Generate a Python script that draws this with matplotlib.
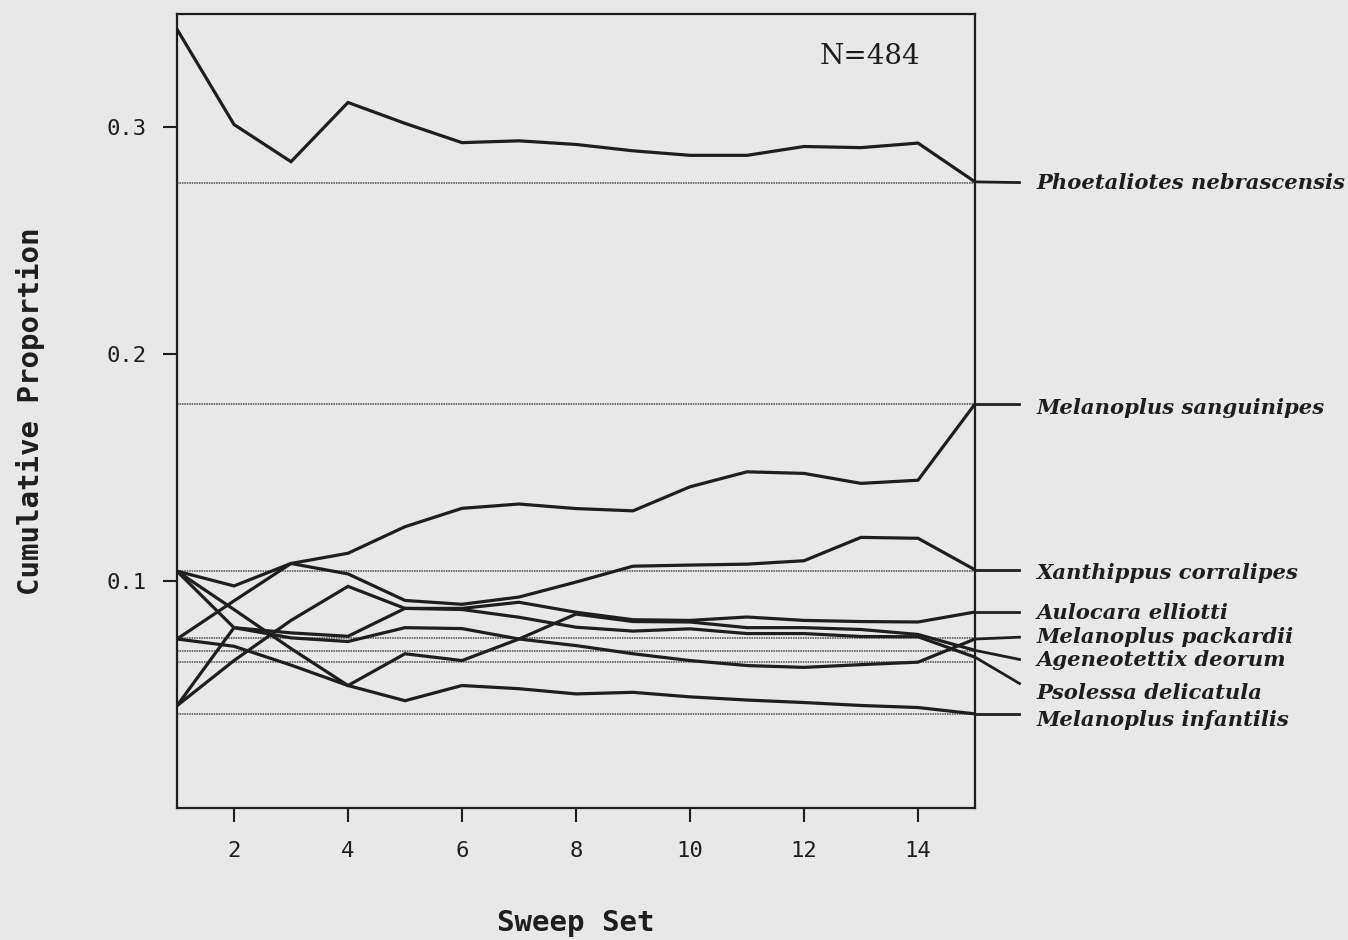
import matplotlib
matplotlib.use("Agg")
import matplotlib.pyplot as plt

# sweep sets and cumulative proportions
sweep = list(range(1, 16))

phoetaliotes = [0.3433, 0.3013, 0.2849, 0.3110, 0.3018, 0.2933, 0.2941, 0.2925, 0.2897, 0.2877,
                0.2877, 0.2916, 0.2911, 0.2931, 0.2760]
sanguinipes = [0.0745, 0.0913, 0.1078, 0.1123, 0.1240, 0.1321, 0.1340, 0.1320, 0.1310, 0.1416,
               0.1482, 0.1475, 0.1431, 0.1445, 0.1781]
xanthippus = [0.1044, 0.0979, 0.1078, 0.1032, 0.0915, 0.0898, 0.0930, 0.0996, 0.1066, 0.1071,
              0.1075, 0.1090, 0.1193, 0.1189, 0.1050]
aulocara = [0.0451, 0.0650, 0.0827, 0.0977, 0.0880, 0.0880, 0.0907, 0.0863, 0.0830, 0.0827,
            0.0842, 0.0827, 0.0822, 0.0820, 0.0864]
packardii = [0.1044, 0.0875, 0.0703, 0.0540, 0.0680, 0.0650, 0.0745, 0.0716, 0.0680, 0.0650,
             0.0628, 0.0620, 0.0632, 0.0643, 0.0745]
ageneotettix = [0.0451, 0.0795, 0.0750, 0.0734, 0.0795, 0.0791, 0.0745, 0.0855, 0.0822, 0.0820,
                0.0795, 0.0795, 0.0787, 0.0765, 0.0695]
psolessa = [0.1044, 0.0795, 0.0772, 0.0757, 0.0880, 0.0875, 0.0841, 0.0797, 0.0780, 0.0790,
            0.0769, 0.0769, 0.0756, 0.0755, 0.0665]
infantilis = [0.0745, 0.0713, 0.0630, 0.0540, 0.0473, 0.0540, 0.0526, 0.0503, 0.0510, 0.0490,
              0.0476, 0.0465, 0.0452, 0.0443, 0.0415]

species = ['Phoetaliotes nebrascensis', 'Melanoplus sanguinipes', 'Xanthippus corralipes',
           'Aulocara elliotti', 'Melanoplus packardii', 'Ageneotettix deorum',
           'Psolessa delicatula', 'Melanoplus infantilis']
series = [phoetaliotes, sanguinipes, xanthippus, aulocara, packardii, ageneotettix,
          psolessa, infantilis]
label_y = [0.2757, 0.1762, 0.1036, 0.0860, 0.0753, 0.0651, 0.0506, 0.0388]
leader_y = [0.2757, 0.1781, 0.1050, 0.0864, 0.0753, 0.0655, 0.0549, 0.0415]

# dotted reference levels
ref_levels = [0.2757, 0.1781, 0.1044, 0.0748, 0.0690, 0.0645, 0.0415]

bg = '#e8e8e8'
ink = '#1e1e1e'

fig = plt.figure(figsize=(13.48, 9.40), dpi=100, facecolor=bg)
ax = fig.add_axes([0.1313, 0.1404, 0.592, 0.8447], facecolor=bg)

for lvl in ref_levels:
    ax.axhline(lvl, color='#4a4a4a', linestyle=(0, (1, 0.6)), linewidth=1.1, zorder=1)

for vals in series:
    ax.plot(sweep, vals, color=ink, linewidth=2.3, solid_joinstyle='miter', zorder=3)

# leader lines and species names to the right of the frame
for name, vals, ly, ty in zip(species, series, leader_y, label_y):
    ax.plot([15, 15.78], [vals[-1], ly], color=ink, linewidth=2.0, clip_on=False, zorder=3)
    ax.text(16.08, ty, name, fontsize=15.2, family='DejaVu Serif', style='italic',
            weight='bold', va='center', ha='left', color=ink)

ax.text(13.15, 0.3314, 'N=484', fontsize=20, family='DejaVu Serif', ha='center',
        va='center', color=ink)

ax.set_xlim(1, 15)
ax.set_ylim(0, 0.35)
ax.set_xticks([2, 4, 6, 8, 10, 12, 14])
ax.set_yticks([0.1, 0.2, 0.3])
ax.set_yticklabels(['0.1', '0.2', '0.3'])
ax.tick_params(direction='out', length=10, width=1.5, colors=ink, labelsize=16)
ax.tick_params(axis='x', pad=14)
ax.tick_params(axis='y', pad=12)
for lab in ax.get_xticklabels() + ax.get_yticklabels():
    lab.set_family('DejaVu Sans Mono')
for sp in ax.spines.values():
    sp.set_linewidth(1.6)
    sp.set_color(ink)

ax.set_xlabel('Sweep Set', fontsize=21, family='DejaVu Sans Mono', weight='bold',
              color=ink, labelpad=34)
ax.set_ylabel('Cumulative Proportion', fontsize=21, family='DejaVu Sans Mono',
              weight='bold', color=ink, labelpad=44)

fig.savefig('out.png', dpi=100, facecolor=bg)
